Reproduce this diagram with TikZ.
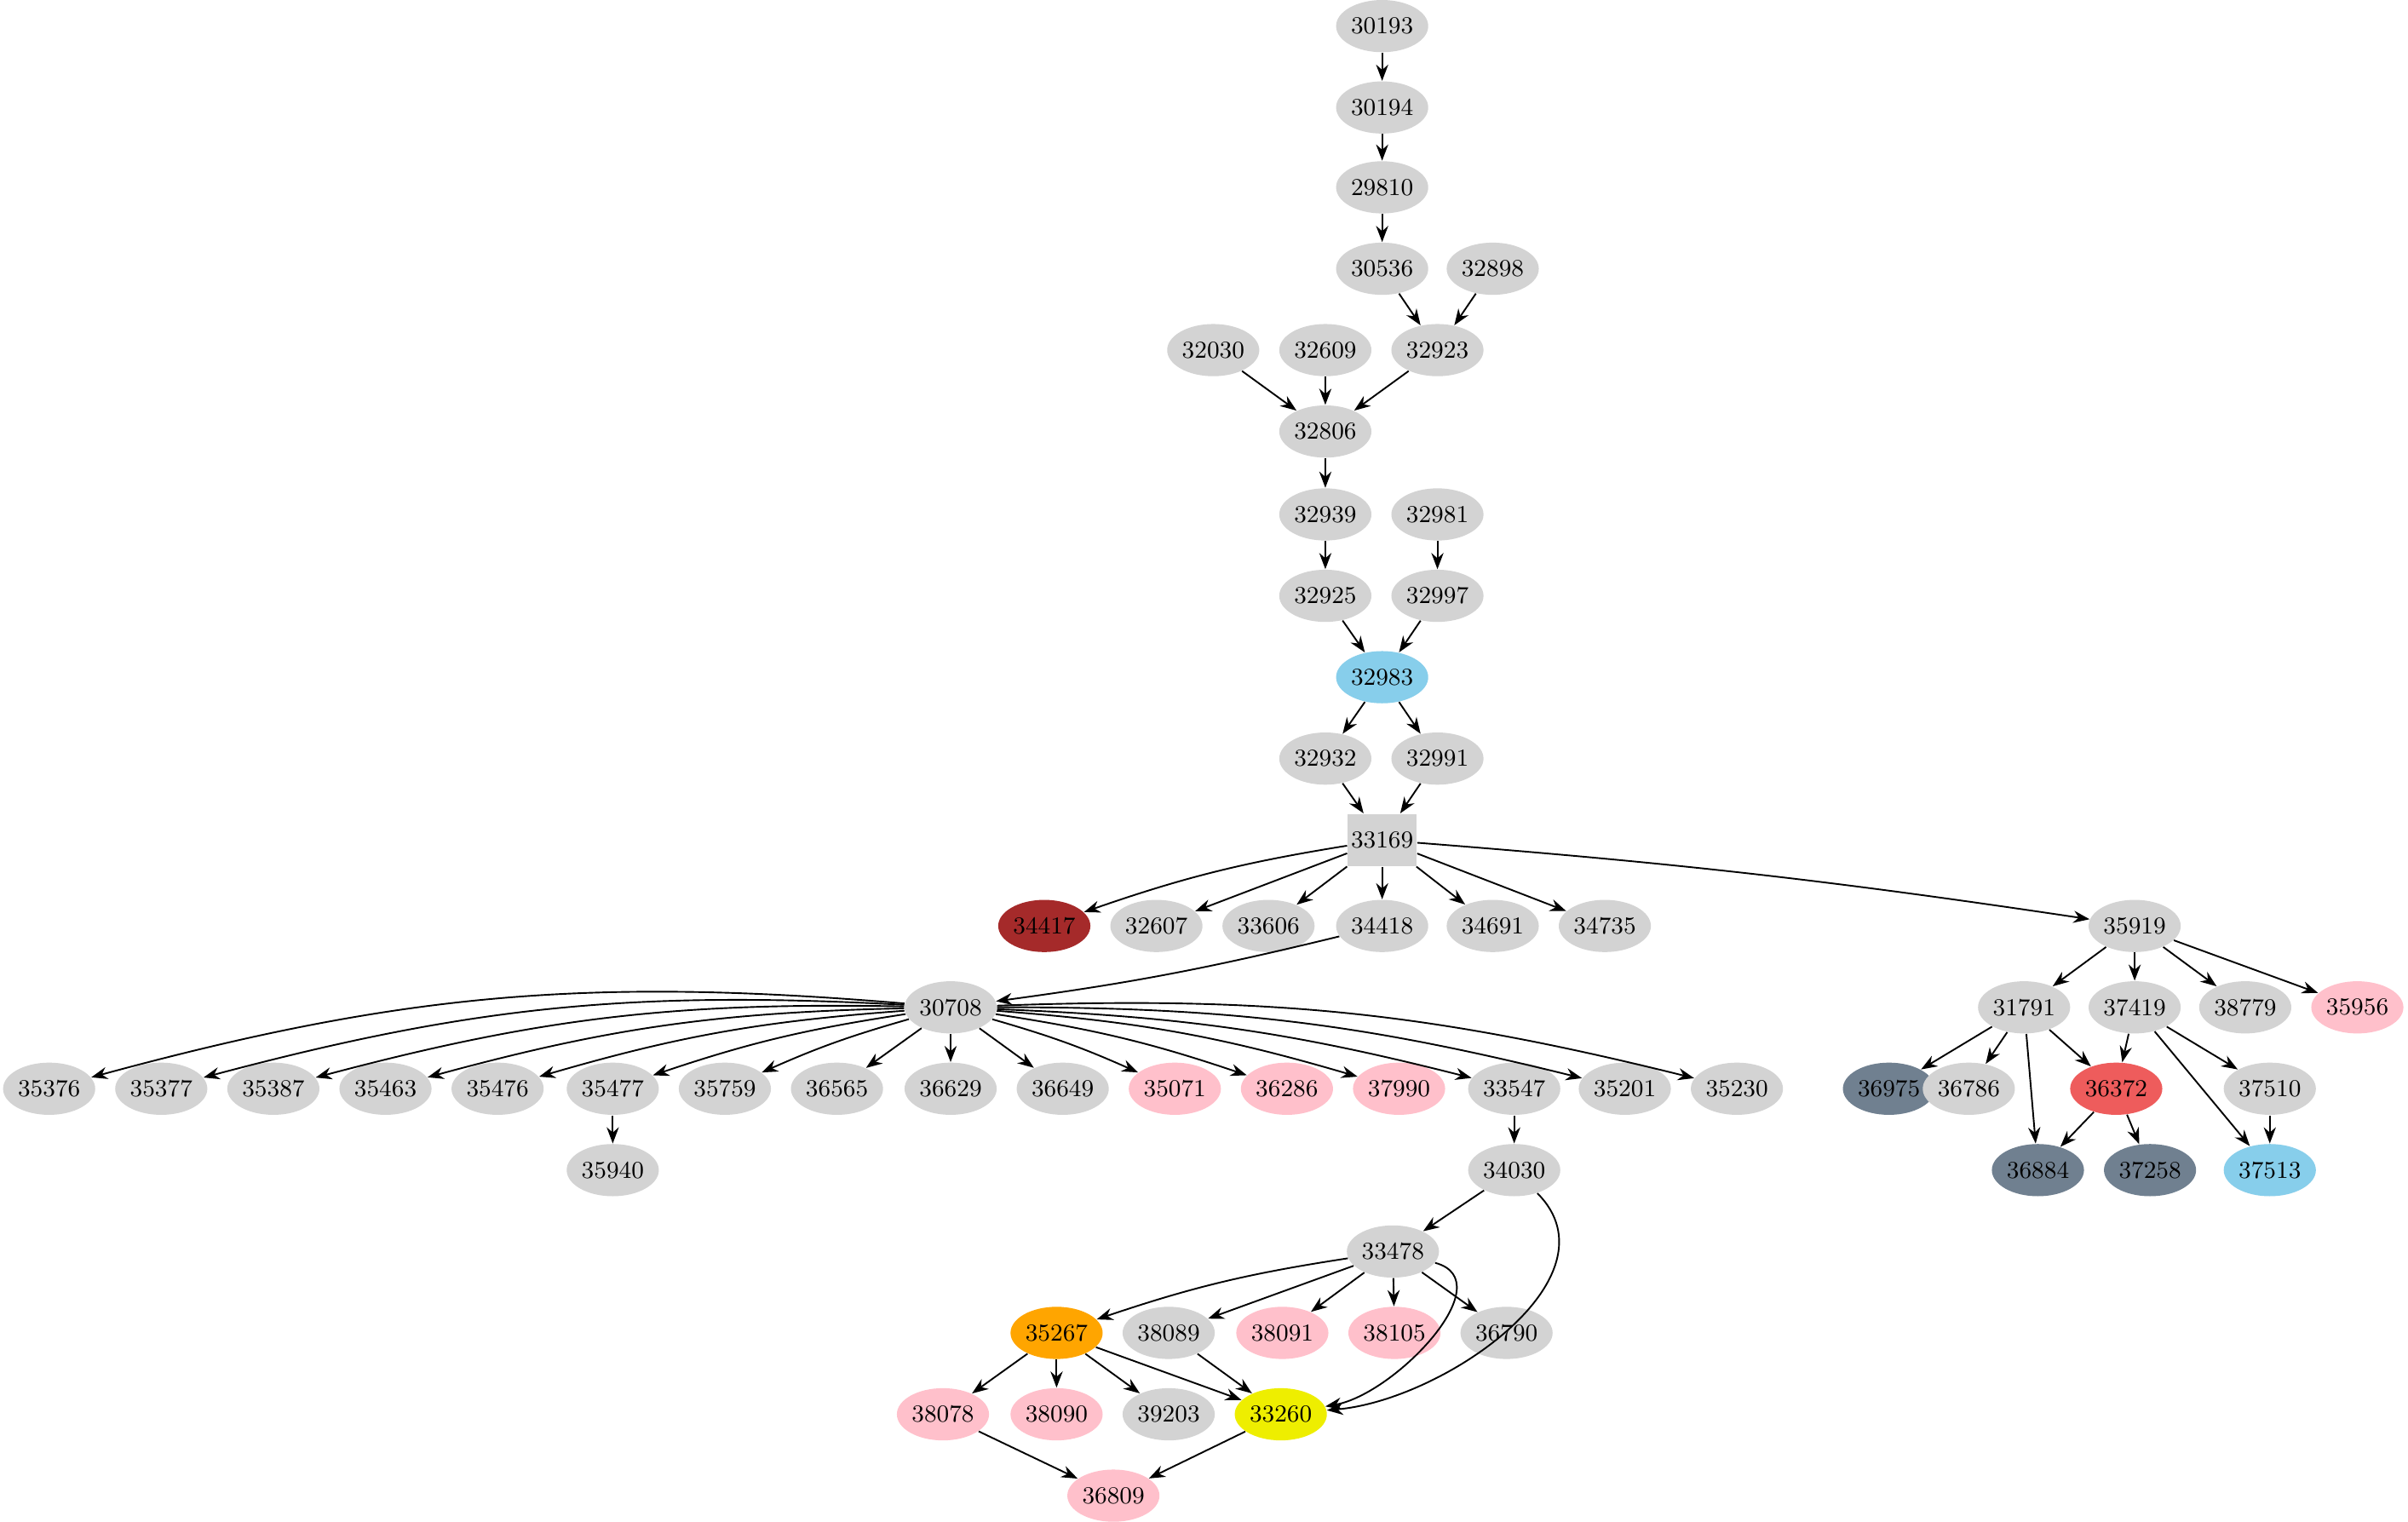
\documentclass[tikz,border=0pt]{standalone}
\usetikzlibrary{arrows.meta,shapes.geometric}
\definecolor{lg}{HTML}{D3D3D3}
\definecolor{pk}{HTML}{FFC0CB}
\definecolor{sk}{HTML}{87CEEB}
\definecolor{sl}{HTML}{708090}
\definecolor{br}{HTML}{A52A2A}
\definecolor{rd}{HTML}{EE5C5C}
\definecolor{og}{HTML}{FFA500}
\definecolor{ye}{HTML}{EEEE00}
\tikzset{n/.style={ellipse,fill=lg,minimum width=1.2cm,minimum height=0.68cm,inner sep=0pt,font=\fontsize{9}{10}\selectfont},
pk/.style={n,fill=pk},sk/.style={n,fill=sk},sl/.style={n,fill=sl},
e/.style={-{Stealth[length=6pt,width=4.5pt]},semithick}}
\begin{document}
\begin{tikzpicture}[x=0.02cm,y=-0.02cm]
\useasboundingbox[fill=white] (0,0) rectangle (1568,991);
\foreach \nm/\x/\y/\s in {30193/900/17/n,30194/900/70/n,29810/900/122/n,30536/900/175/n,32898/972/175/n,
32030/790/228/n,32609/863/228/n,32923/936/228/n,32806/863/281/n,32939/863/335/n,32981/936/335/n,
32925/863/388/n,32997/936/388/n,32983/900/441/sk,32932/863/494/n,32991/936/494/n,
32607/753/603/n,33606/826/603/n,34418/900/603/n,34691/972/603/n,34735/1045/603/n,35919/1390/603/n,
30708/619/656/n,31791/1318/656/n,37419/1390/656/n,38779/1462/656/n,35956/1535/656/pk,
35376/32/709/n,35377/105/709/n,35387/178/709/n,35463/251/709/n,35476/324/709/n,35477/399/709/n,
35759/472/709/n,36565/545/709/n,36629/619/709/n,36649/692/709/n,35071/765/709/pk,36286/838/709/pk,
37990/911/709/pk,33547/986/709/n,35201/1058/709/n,35230/1131/709/n,36975/1230/709/sl,36786/1282/709/n,
37510/1478/709/n,35940/399/762/n,34030/986/762/n,36884/1327/762/sl,37258/1400/762/sl,37513/1478/762/sk,
33478/907/815/n,38089/761/868/n,38091/835/868/pk,38105/908/868/pk,36790/981/868/n,
38078/614/921/pk,38090/688/921/pk,39203/761/921/n,36809/725/974/pk}
  \node[\s] (\nm) at (\x,\y) {\nm};
\node[n,fill=br] (34417) at (680,603) {34417};
\node[n,fill=rd] (36372) at (1378,709) {36372};
\node[n,fill=og] (35267) at (688,868) {35267};
\node[n,fill=ye] (33260) at (834,921) {33260};
\node[rectangle,fill=lg,minimum width=0.9cm,minimum height=0.68cm,inner sep=0pt,font=\fontsize{9}{10}\selectfont] (33169) at (900,547) {33169};
\foreach \a/\b in {30193/30194,30194/29810,29810/30536,30536/32923,32898/32923,32030/32806,32609/32806,32923/32806,
32806/32939,32939/32925,32981/32997,32925/32983,32997/32983,32983/32932,32983/32991,32932/33169,32991/33169,
33169/32607,33169/33606,33169/34418,33169/34691,33169/34735,35919/31791,35919/37419,35919/38779,
35919/35956,31791/36975,31791/36786,31791/36372,31791/36884,37419/36372,37419/37510,37419/37513,36372/36884,36372/37258,
37510/37513,35477/35940,33547/34030,34030/33478,33478/38089,33478/38091,33478/38105,33478/36790,
35267/38078,35267/38090,35267/39203,35267/33260,38089/33260,38078/36809,33260/36809,30708/36629,30708/36649,30708/36565}
  \draw[e] (\a) -- (\b);
\draw[e] (33169) to[bend right=5] (34417);
\draw[e] (33169) to[bend left=2] (35919);
\draw[e] (34418) to[bend left=3] (30708);
\draw[e] (33478) to[bend right=5] (35267);
\foreach \b/\bb in {35376/10,35377/9,35387/8,35463/7,35476/6,35477/5,35759/4}
  \draw[e] (30708) to[bend right=\bb] (\b);
\foreach \b/\bb in {35071/4,36286/5,37990/6,33547/6,35201/7,35230/8}
  \draw[e] (30708) to[bend left=\bb] (\b);
\draw[e] (34030) to[out=-45,in=5] (33260);
\draw[e] (33478) to[out=-15,in=10] (33260);
\end{tikzpicture}
\end{document}
